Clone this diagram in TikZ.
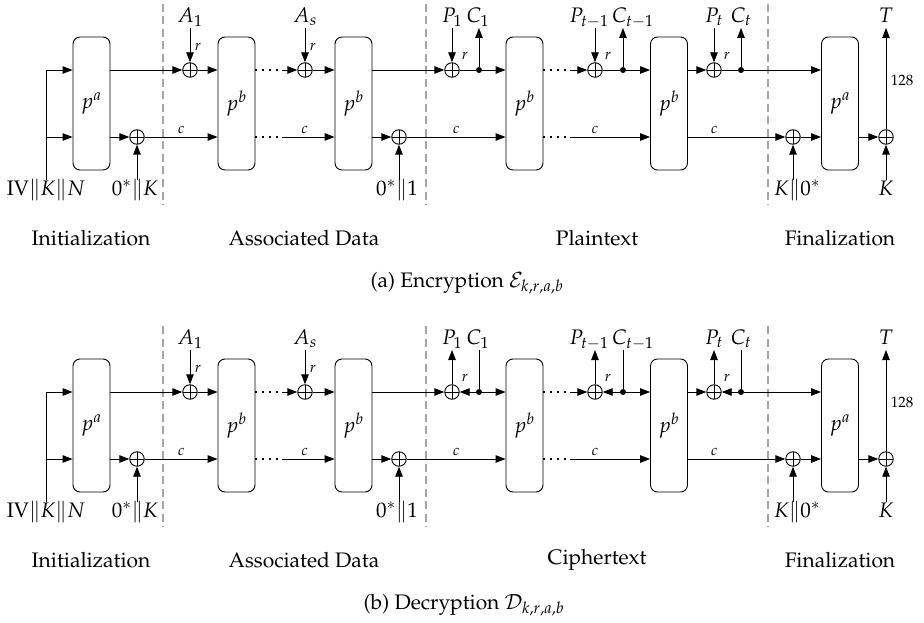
\documentclass[tikz,border=0pt]{standalone}
\usepackage[T1]{fontenc}
\usepackage{mathpazo}
\usetikzlibrary{arrows.meta, positioning, calc}

\tikzset{
  perm/.style={draw, rounded corners=7pt, minimum width=37pt, minimum height=133pt, inner sep=0pt},
  xor/.style={circle, draw, minimum size=14.5pt, inner sep=0pt,
    path picture={\draw (path picture bounding box.north) -- (path picture bounding box.south)
                        (path picture bounding box.west) -- (path picture bounding box.east);}},
  jn/.style={circle, fill, minimum size=6pt, inner sep=0pt},
  arr/.style={-{Triangle[length=10pt,width=7.5pt]}},
  dots/.style={line width=2.2pt, dash pattern=on 2pt off 5pt},
  sep/.style={draw=black!35, line width=2.5pt, dash pattern=on 8pt off 4.5pt},
  toplbl/.style={anchor=south, inner sep=0pt, text depth=5pt},
  botlbl/.style={anchor=north, inner sep=0pt, text height=15pt},
  wlbl/.style={font=\fontsize{15}{18}\selectfont, inner sep=1pt}
}

\begin{document}
\begin{tikzpicture}[x=1pt, y=-1pt, line width=0.9pt, font=\fontsize{21}{25}\selectfont]
  \useasboundingbox (0,0) rectangle (924,623);

  % both modes share the same skeleton
  \foreach \m/\dy in {e/0pt, d/322pt}{
  \begin{scope}[yshift=-\dy]
    % permutations
    \node[perm] (\m-pa1) at (91.5,103.5) {$p^a$};
    \node[perm] (\m-pb1) at (236.5,103.5) {$p^b$};
    \node[perm] (\m-pb2) at (353.5,103.5) {$p^b$};
    \node[perm] (\m-pb3) at (524.5,103.5) {$p^b$};
    \node[perm] (\m-pb4) at (669,103.5) {$p^b$};
    \node[perm] (\m-pa2) at (840,103.5) {$p^a$};

    % xors and branch points
    \node[xor] (\m-xa1) at (190,70) {};
    \node[xor] (\m-xas) at (305,70) {};
    \node[xor] (\m-xp1) at (452,70) {};
    \node[xor] (\m-xpt1) at (595,70) {};
    \node[xor] (\m-xpt) at (714,70) {};
    \node[xor] (\m-xk1) at (137,137) {};
    \node[xor] (\m-xone) at (399,137) {};
    \node[xor] (\m-xk2) at (793,137) {};
    \node[xor] (\m-xfin) at (886,137) {};
    \node[jn] (\m-dc1) at (479,70) {};
    \node[jn] (\m-dct1) at (623,70) {};
    \node[jn] (\m-dct) at (741,70) {};
    \coordinate (\m-int) at (46,70);
    \coordinate (\m-inb) at (46,137);
    \coordinate (\m-g1t) at (282,70);
    \coordinate (\m-g1b) at (282,137);
    \coordinate (\m-g2t) at (570,70);
    \coordinate (\m-g2b) at (570,137);

    % inputs and outputs
    \node[botlbl] (\m-iv) at (46,180) {$\mathrm{IV}\|K\|N$};
    \node[botlbl] (\m-k1) at (135,180) {$0^*\|K$};
    \node[botlbl] (\m-one) at (397,180) {$0^*\|1$};
    \node[botlbl] (\m-k2) at (797,180) {$K\|0^*$};
    \node[botlbl] (\m-key) at (886,180) {$K$};
    \node[toplbl] (\m-a1) at (190,28) {$A_1$};
    \node[toplbl] (\m-as) at (305,28) {$A_s$};
    \node[toplbl] (\m-p1) at (452,28) {$P_1$};
    \node[toplbl] (\m-c1) at (478,28) {$C_1$};
    \node[toplbl] (\m-pt1) at (589,28) {$P_{t{-}1}$};
    \node[toplbl] (\m-ct1) at (633,28) {$C_{t{-}1}$};
    \node[toplbl] (\m-pt) at (714,28) {$P_t$};
    \node[toplbl] (\m-ct) at (741,28) {$C_t$};
    \node[toplbl] (\m-tag) at (886,28) {$T$};
    \node[wlbl] (\m-ra1) at (198,47) {$r$};
    \node[wlbl] (\m-ras) at (313,47) {$r$};
    \node[wlbl] (\m-rp1) at (465,56) {$r$};
    \node[wlbl] (\m-rpt1) at (608,56) {$r$};
    \node[wlbl] (\m-rpt) at (727,56) {$r$};
    \node[wlbl] (\m-len) at (902,80) {128};

    % phases
    \draw[sep] (163,4) -- (163,205);
    \draw[sep] (426,4) -- (426,205);
    \draw[sep] (768,4) -- (768,205);
    \node[anchor=base] (\m-init) at (91,245) {Initialization};
    \node[anchor=base] (\m-ad) at (304,245) {Associated Data};
    \node[anchor=base] (\m-fin) at (840,245) {Finalization};

    % wires
    \draw (\m-iv) -- (\m-int);
    \draw[arr] (\m-int) -- (\m-int -| \m-pa1.west);
    \draw[arr] (\m-inb) -- (\m-inb -| \m-pa1.west);
    \draw[arr] (\m-pa1.east |- \m-xk1) -- (\m-xk1);
    \draw[arr] (\m-xk1 |- \m-k1.north) -- (\m-xk1);
    \draw[arr] (\m-pa1.east |- \m-xa1) -- (\m-xa1);
    \draw[arr] (\m-xa1 |- \m-a1.south) -- (\m-xa1);
    \draw[arr] (\m-xa1) -- (\m-xa1 -| \m-pb1.west);
    \draw[arr] (\m-xk1) -- (\m-xk1 -| \m-pb1.west) node[wlbl, midway, above=2pt] {$c$};
    \draw[dots] (\m-pb1.east |- \m-g1t) -- (\m-g1t);
    \draw[arr] (\m-g1t) -- (\m-xas);
    \draw[dots] (\m-pb1.east |- \m-g1b) -- (\m-g1b);
    \draw[arr] (\m-g1b) -- (\m-g1b -| \m-pb2.west) node[wlbl, pos=0.43, above=2pt] {$c$};
    \draw[arr] (\m-xas |- \m-as.south) -- (\m-xas);
    \draw[arr] (\m-xas) -- (\m-xas -| \m-pb2.west);
    \draw[arr] (\m-pb2.east |- \m-xone) -- (\m-xone);
    \draw[arr] (\m-xone |- \m-one.north) -- (\m-xone);
    \draw[arr] (\m-xone) -- (\m-xone -| \m-pb3.west) node[wlbl, midway, above=2pt] {$c$};
    \draw[arr] (\m-pb2.east |- \m-xp1) -- (\m-xp1);
    \draw[arr] (\m-dc1) -- (\m-dc1 -| \m-pb3.west);
    \draw[dots] (\m-pb3.east |- \m-g2t) -- (\m-g2t);
    \draw[arr] (\m-g2t) -- (\m-xpt1);
    \draw[dots] (\m-pb3.east |- \m-g2b) -- (\m-g2b);
    \draw[arr] (\m-g2b) -- (\m-g2b -| \m-pb4.west) node[wlbl, pos=0.31, above=2pt] {$c$};
    \draw[arr] (\m-dct1) -- (\m-dct1 -| \m-pb4.west);
    \draw[arr] (\m-pb4.east |- \m-xpt) -- (\m-xpt);
    \draw[arr] (\m-dct) -- (\m-dct -| \m-pa2.west);
    \draw[arr] (\m-pb4.east |- \m-xk2) -- (\m-xk2) node[wlbl, pos=0.27, above=2pt] {$c$};
    \draw[arr] (\m-xk2 |- \m-k2.north) -- (\m-xk2);
    \draw[arr] (\m-xk2) -- (\m-xk2 -| \m-pa2.west);
    \draw[arr] (\m-pa2.east |- \m-xfin) -- (\m-xfin);
    \draw[arr] (\m-key) -- (\m-xfin);
    \draw[arr] (\m-xfin) -- (\m-tag);
  \end{scope}}

  % encryption: message blocks go in, ciphertext blocks come out
  \node[anchor=base] (e-msg) at (597,245) {Plaintext};
  \node[anchor=base] (e-cap) at (467,287) {(a) Encryption $\mathcal{E}_{k,r,a,b}$};
  \draw (e-xp1) -- (e-dc1);
  \draw (e-xpt1) -- (e-dct1);
  \draw (e-xpt) -- (e-dct);
  \draw[arr] (e-xp1 |- e-p1.south) -- (e-xp1);
  \draw[arr] (e-xpt1 |- e-pt1.south) -- (e-xpt1);
  \draw[arr] (e-xpt |- e-pt.south) -- (e-xpt);
  \draw[arr] (e-dc1) -- (e-dc1 |- e-c1.south);
  \draw[arr] (e-dct1) -- (e-dct1 |- e-ct1.south);
  \draw[arr] (e-dct) -- (e-dct |- e-ct.south);

  % decryption: ciphertext goes in, plaintext comes out
  \begin{scope}[yshift=-322pt]
    \node[anchor=base] (d-msg) at (597,242) {Ciphertext};
    \node[anchor=base] (d-cap) at (464,287) {(b) Decryption $\mathcal{D}_{k,r,a,b}$};
  \end{scope}
  \draw[arr] (d-dc1) -- (d-xp1);
  \draw[arr] (d-dct1) -- (d-xpt1);
  \draw[arr] (d-dct) -- (d-xpt);
  \draw[arr] (d-xp1) -- (d-xp1 |- d-p1.south);
  \draw[arr] (d-xpt1) -- (d-xpt1 |- d-pt1.south);
  \draw[arr] (d-xpt) -- (d-xpt |- d-pt.south);
  \draw (d-dc1 |- d-c1.south) -- (d-dc1);
  \draw (d-dct1 |- d-ct1.south) -- (d-dct1);
  \draw (d-dct |- d-ct.south) -- (d-dct);
\end{tikzpicture}
\end{document}
